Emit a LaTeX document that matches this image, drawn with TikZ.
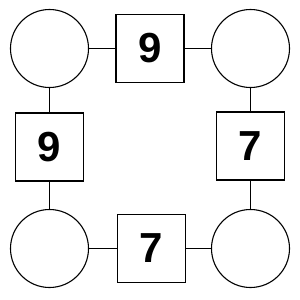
\documentclass[tikz,border=0pt]{standalone}
\usepackage{fontspec}
\setmainfont{Liberation Sans}
\begin{document}
\begin{tikzpicture}[x=1pt,y=-1pt,
  circ/.style={draw,circle,line width=1.1pt,minimum size=78pt,inner sep=0pt},
  sq/.style={draw,rectangle,line width=1.1pt,minimum size=68pt,inner sep=0pt,font=\fontsize{42}{42}\selectfont\bfseries},
  link/.style={line width=1.1pt}]
\useasboundingbox (0,0) rectangle (300,300);
\node[circ] (tl) at (49.5,48.5) {};
\node[circ] (tr) at (250.5,48.5) {};
\node[circ] (bl) at (49.5,248.5) {};
\node[circ] (br) at (250.5,248.5) {};
\node[sq] (t) at (150,48.5) {9};
\node[sq] (l) at (49.5,147) {9};
\node[sq] (r) at (250.5,146) {7};
\node[sq] (b) at (151.5,248.5) {7};
\draw[link] (tl) -- (t);
\draw[link] (t) -- (tr);
\draw[link] (tl) -- (l);
\draw[link] (l) -- (bl);
\draw[link] (tr) -- (r);
\draw[link] (r) -- (br);
\draw[link] (bl) -- (b);
\draw[link] (b) -- (br);
\end{tikzpicture}
\end{document}
